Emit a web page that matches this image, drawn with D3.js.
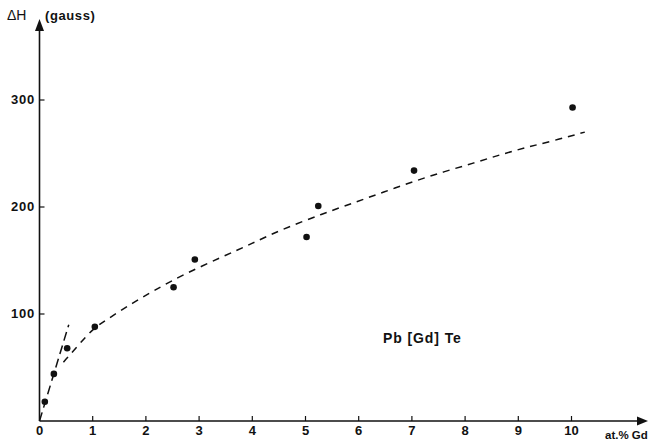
<!DOCTYPE html>
<html>
<head>
<meta charset="utf-8">
<script src="https://cdn.jsdelivr.net/npm/d3@7"></script>
<style>
	body { margin: 0; background: #fff; }
	text { font-family: "Liberation Sans", Arial, sans-serif; font-weight: bold; fill: #111; }
</style>
</head>
<body>
<div id="chart"></div>
<script>
// measured points, at.% Gd vs line width (gauss)
var conc   = [0.1, 0.27, 0.52, 1.04, 2.52, 2.92, 5.02, 5.24, 7.04, 10.02];
var deltaH = [18, 44, 68, 88, 125, 151, 172, 201, 234, 293];

// dashed fit curve
var fitX = [0.45, 0.75, 1, 1.27, 1.71, 2.15, 2.71, 3.46, 4, 4.5, 5.34, 5.91, 6.47, 7.04, 7.6, 8.16, 8.67, 9.17, 9.67, 10.25];
var fitY = [55, 72, 86, 95, 109, 122, 137, 154, 166, 178, 194, 204, 214, 224, 233, 241, 249, 256, 262, 270];

// steep initial slope line
var slopeX = [0, 0.55];
var slopeY = [0, 90];

var xTicks = [0, 1, 2, 3, 4, 5, 6, 7, 8, 9, 10];
var yTicks = [100, 200, 300];

var svgWidth = 653, svgHeight = 441;

var svg = d3.select("#chart").append("svg")
	.attr("width", svgWidth)
	.attr("height", svgHeight);

var x = d3.scaleLinear().domain([0, 10]).range([39.5, 571.5]);
var y = d3.scaleLinear().domain([0, 300]).range([421, 100]);

// axes lines with arrows
svg.append("line")
	.attr("x1", x(0)).attr("y1", y(0))
	.attr("x2", 640).attr("y2", y(0))
	.attr("stroke", "#111").attr("stroke-width", 1.6);
svg.append("path")
	.attr("d", "M" + 648 + "," + y(0) + "L" + 637 + "," + (y(0) - 4.5) + "L" + 637 + "," + (y(0) + 4.5) + "Z")
	.attr("fill", "#111");

svg.append("line")
	.attr("x1", x(0)).attr("y1", y(0))
	.attr("x2", x(0)).attr("y2", 30)
	.attr("stroke", "#111").attr("stroke-width", 1.6);
svg.append("path")
	.attr("d", "M" + x(0) + "," + 19 + "L" + (x(0) - 4.5) + "," + 31 + "L" + (x(0) + 4.5) + "," + 31 + "Z")
	.attr("fill", "#111");

// x ticks
var xg = svg.append("g");
xg.selectAll("line")
		.data(xTicks.filter(function(d) { return d > 0; }))
	.enter().append("line")
		.attr("x1", function(d) { return x(d); })
		.attr("x2", function(d) { return x(d); })
		.attr("y1", y(0))
		.attr("y2", y(0) - 5)
		.attr("stroke", "#111").attr("stroke-width", 1.2);
xg.selectAll("text")
		.data(xTicks)
	.enter().append("text")
		.attr("x", function(d) { return x(d); })
		.attr("y", 435)
		.attr("text-anchor", "middle")
		.style("font-size", "13px")
		.text(function(d) { return d; });

// y ticks
var yg = svg.append("g");
yg.selectAll("line")
		.data(yTicks)
	.enter().append("line")
		.attr("x1", x(0))
		.attr("x2", x(0) + 5)
		.attr("y1", function(d) { return y(d); })
		.attr("y2", function(d) { return y(d); })
		.attr("stroke", "#111").attr("stroke-width", 1.2);
yg.selectAll("text")
		.data(yTicks)
	.enter().append("text")
		.attr("x", 35)
		.attr("y", function(d) { return y(d) + 4; })
		.attr("text-anchor", "end")
		.style("font-size", "13px")
		.style("letter-spacing", "0.8px")
		.text(function(d) { return d; });

// axis titles
svg.append("text").attr("x", 7).attr("y", 20).style("font-size", "14px").style("font-weight", "normal").text("ΔH");
svg.append("text").attr("x", 45).attr("y", 20).style("font-size", "13px").style("letter-spacing", "0.6px").text("(gauss)");
svg.append("text").attr("x", 605).attr("y", 439).style("font-size", "11.5px").text("at.% Gd");
svg.append("text").attr("x", 383).attr("y", 343).style("font-size", "14px").style("letter-spacing", "0.9px").text("Pb [Gd] Te");

// dashed lines
var line = d3.line()
	.x(function(d) { return x(d[0]); })
	.y(function(d) { return y(d[1]); });

svg.append("path")
	.datum(d3.zip(fitX, fitY))
	.attr("d", line.curve(d3.curveBasis))
	.attr("fill", "none")
	.attr("stroke", "#111")
	.attr("stroke-width", 1.5)
	.attr("stroke-dasharray", "7,6");

svg.append("path")
	.datum(d3.zip(slopeX, slopeY))
	.attr("d", d3.line().x(function(d) { return x(d[0]); }).y(function(d) { return y(d[1]); }))
	.attr("fill", "none")
	.attr("stroke", "#111")
	.attr("stroke-width", 1.5)
	.attr("stroke-dasharray", "9,5");

// data points
svg.append("g").selectAll("circle")
		.data(d3.zip(conc, deltaH))
	.enter().append("circle")
		.attr("cx", function(d) { return x(d[0]); })
		.attr("cy", function(d) { return y(d[1]); })
		.attr("r", 3.3)
		.attr("fill", "#111");
</script>
</body>
</html>
